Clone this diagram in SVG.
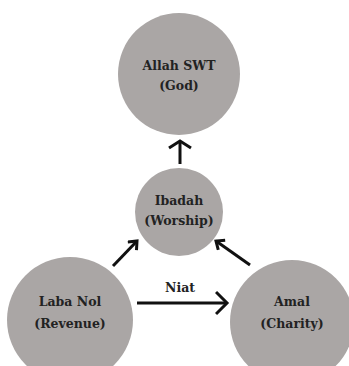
<svg xmlns="http://www.w3.org/2000/svg" width="349" height="366" viewBox="0 0 349 366">
<style>
.n{fill:#aaa6a5;}
.t{font-family:"DejaVu Serif","Liberation Serif",serif;font-weight:bold;font-size:12.5px;fill:#222;text-anchor:middle;}
.c{stroke:#111;stroke-width:3;fill:none;stroke-linecap:butt;}
</style>
<defs>
<marker id="ah" markerWidth="12" markerHeight="14" refX="9" refY="7" orient="auto" markerUnits="userSpaceOnUse" viewBox="0 0 12 14">
<polyline points="2,1 9,7 2,13" fill="none" stroke="#111" stroke-width="3"/>
</marker>
<marker id="top" markerWidth="12" markerHeight="26" refX="9" refY="13" orient="auto" markerUnits="userSpaceOnUse" viewBox="0 0 12 26">
<polyline points="2,2 9,13 2,24" fill="none" stroke="#111" stroke-width="3"/>
</marker>
<marker id="big" markerWidth="16" markerHeight="26" refX="12" refY="13" orient="auto" markerUnits="userSpaceOnUse" viewBox="0 0 16 26">
<polyline points="1,2 12,13 1,24" fill="none" stroke="#111" stroke-width="3"/>
</marker>
</defs>
<rect width="349" height="366" fill="#fff"/>
<g id="connectors">
<line class="c" x1="180" y1="164" x2="180" y2="141" marker-end="url(#top)"/>
<line class="c" x1="113" y1="266" x2="137" y2="241" marker-end="url(#ah)"/>
<line class="c" x1="250" y1="265" x2="216" y2="241" marker-end="url(#ah)"/>
<line class="c" x1="137" y1="303" x2="227" y2="303" marker-end="url(#big)"/>
<text class="t" x="180" y="292">Niat</text>
</g>
<g id="allah">
<circle class="n" cx="179" cy="74" r="61"/>
<text class="t" x="179" y="70">Allah SWT</text>
<text class="t" x="179" y="90">(God)</text>
</g>
<g id="ibadah">
<circle class="n" cx="179" cy="212" r="44"/>
<text class="t" x="179" y="205">Ibadah</text>
<text class="t" x="179" y="225">(Worship)</text>
</g>
<g id="laba">
<circle class="n" cx="70" cy="320" r="63"/>
<text class="t" x="70" y="306">Laba Nol</text>
<text class="t" x="70" y="328">(Revenue)</text>
</g>
<g id="amal">
<circle class="n" cx="292" cy="322" r="62"/>
<text class="t" x="292" y="306">Amal</text>
<text class="t" x="292" y="328">(Charity)</text>
</g>
</svg>
